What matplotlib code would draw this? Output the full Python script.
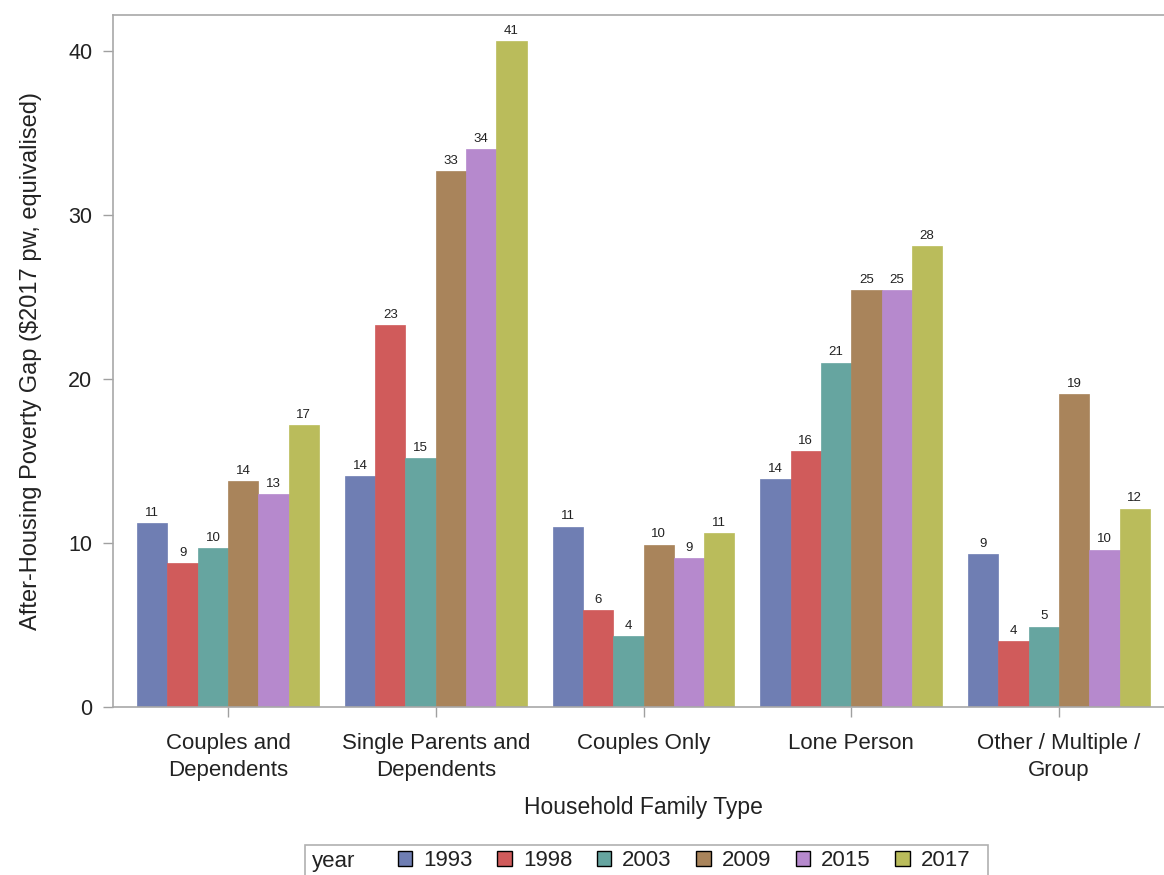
import matplotlib
matplotlib.use("Agg")
import matplotlib.pyplot as plt
import numpy as np
from matplotlib.patches import Rectangle

plt.rcParams['font.family'] = ['Liberation Sans', 'DejaVu Sans']

categories = ["Couples and\nDependents", "Single Parents and\nDependents",
              "Couples Only", "Lone Person", "Other / Multiple /\nGroup"]
years = ["1993", "1998", "2003", "2009", "2015", "2017"]
v1993 = [11.2, 14.1, 11.0, 13.9, 9.3]
v1998 = [8.8, 23.3, 5.9, 15.6, 4.0]
v2003 = [9.7, 15.2, 4.3, 21.0, 4.9]
v2009 = [13.8, 32.7, 9.9, 25.4, 19.1]
v2015 = [13.0, 34.0, 9.1, 25.4, 9.6]
v2017 = [17.2, 40.6, 10.6, 28.1, 12.1]
series = [v1993, v1998, v2003, v2009, v2015, v2017]
colors = ["#6F7EB3", "#D05B5B", "#66A5A0", "#A9845B", "#B689CD", "#BABC5B"]

W, H = 1164, 875
fig = plt.figure(figsize=(W / 100, H / 100), dpi=100)
ax = fig.add_axes([113 / W, 1 - 707 / H, (1174 - 113) / W, (707 - 15) / H])

x = np.arange(len(categories))
bw = 0.146
txtc = "#222222"
for i, (vals, col) in enumerate(zip(series, colors)):
    pos = x + (i - 2.5) * bw
    bars = ax.bar(pos, vals, width=bw, color=col, edgecolor=col, linewidth=0.5,
                  label=years[i], zorder=2)
    for b, v in zip(bars, vals):
        ax.annotate(f"{v:.0f}", (b.get_x() + b.get_width() / 2, v),
                    xytext=(0, 3), textcoords="offset points",
                    ha="center", va="bottom", fontsize=9.5, color=txtc)

ax.set_xlim(-0.554, 4.554)
ax.set_ylim(0, 42.2)
ax.set_yticks([0, 10, 20, 30, 40])
ax.set_xticks(x)
ax.set_xticklabels(categories, fontsize=16, color=txtc, linespacing=1.35)
ax.tick_params(axis='y', labelsize=15.5, colors="#A0A0A0", labelcolor=txtc,
               length=7, width=1, pad=8)
ax.tick_params(axis='x', colors="#A0A0A0", labelcolor=txtc, length=7, width=1, pad=12)

for s in ["left", "top", "bottom"]:
    ax.spines[s].set_color("#A8A8A8")
    ax.spines[s].set_linewidth(1.2)
ax.spines["right"].set_visible(False)

ax.set_ylabel("After-Housing Poverty Gap ($2017 pw, equivalised)", fontsize=17,
              color=txtc, labelpad=19)
ax.set_xlabel("Household Family Type", fontsize=16.5, color=txtc, labelpad=11)

# legend frame and title
frame = Rectangle((305 / W, -0.01), (988 - 305) / W, 1 - 845 / H + 0.01,
                  transform=fig.transFigure, facecolor="white",
                  edgecolor="#B0B0B0", linewidth=1.2)
fig.patches.append(frame)
fig.text(312 / W, 1 - 861 / H, "year", fontsize=16, color=txtc,
         ha="left", va="center")

handles = [Rectangle((0, 0), 1, 1, facecolor=c, edgecolor="black", linewidth=1)
           for c in colors]
leg = fig.legend(handles, years, loc="center left",
                 bbox_to_anchor=(398 / W, 1 - 861 / H), ncol=6,
                 fontsize=16, frameon=False,
                 handlelength=0.65, handleheight=0.65,
                 handletextpad=0.5, columnspacing=1.1, borderpad=0,
                 borderaxespad=0)
for t in leg.get_texts():
    t.set_color(txtc)

fig.savefig("out.png", dpi=100)
